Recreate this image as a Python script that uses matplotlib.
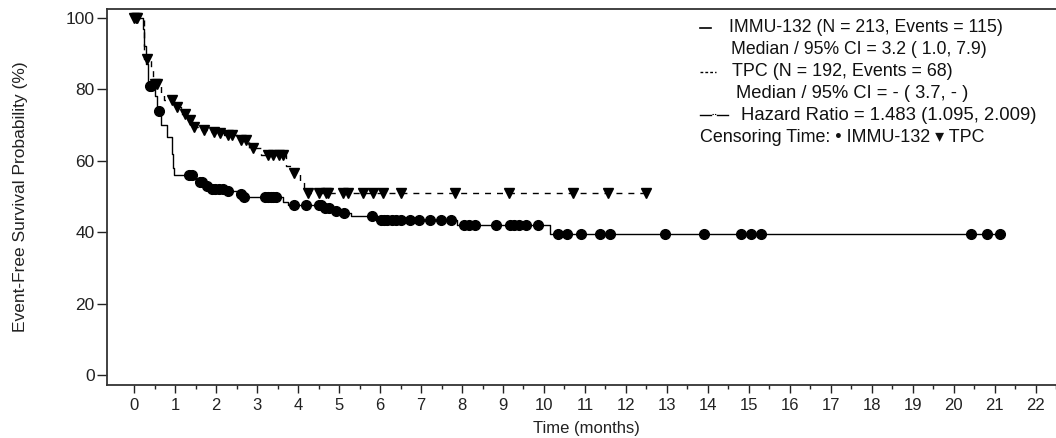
import numpy as np
import matplotlib
matplotlib.use("Agg")
import matplotlib.pyplot as plt
from matplotlib.lines import Line2D

plt.rcParams['font.family'] = ['Liberation Sans', 'DejaVu Sans']

# ---------------- data ----------------
imm_t = [0, 0.22, 0.25, 0.3, 0.35, 0.5, 0.57, 0.66, 0.8, 0.93, 0.95, 0.97,
         1.45, 1.55, 1.7, 1.82, 2.25, 2.5, 2.63, 3.62, 3.75, 4.6, 4.85, 5.05,
         5.3, 5.93, 7.87, 10.15]
imm_s = [100, 97, 92, 87, 81, 78, 74, 70, 66.7, 62, 58, 56,
         55, 54, 53, 52, 51.5, 50.8, 49.8, 48.5, 47.6, 46.8, 46, 45.4,
         44.5, 43.4, 42, 39.5]
imm_end = 21.12
imm_cens = [0.38, 0.42, 0.6, 1.33, 1.4, 1.6, 1.65, 1.78, 1.9, 1.98, 2.08, 2.16,
            2.3, 2.6, 2.68, 3.2, 3.27, 3.33, 3.4, 3.45, 3.9, 4.2, 4.5, 4.55,
            4.65, 4.75, 4.93, 5.13, 5.8, 6.03, 6.1, 6.18, 6.28, 6.4, 6.52,
            6.72, 6.94, 7.21, 7.48, 7.73, 8.05, 8.18, 8.32, 8.83, 9.17, 9.27,
            9.4, 9.55, 9.86, 10.33, 10.57, 10.91, 11.36, 11.6, 12.95, 13.9,
            14.8, 15.05, 15.3, 20.43, 20.8, 21.12]

tpc_t = [0, 0.25, 0.42, 0.47, 0.65, 0.72, 0.98, 1.15, 1.3, 1.42, 1.55, 1.85,
         2.0, 2.2, 2.5, 2.8, 3.1, 3.7, 3.85, 4.05, 4.15]
tpc_s = [100, 88.5, 85.5, 81.5, 79, 77, 75, 73, 71.4, 69.5, 68.6, 68,
         67.7, 67.2, 65.8, 63.6, 61.6, 58.5, 56.6, 54, 51]
tpc_end = 12.49
tpc_cens = [0.0, 0.04, 0.08, 0.32, 0.5, 0.56, 0.93, 1.05, 1.25, 1.37, 1.47,
            1.7, 1.94, 2.1, 2.28, 2.4, 2.6, 2.72, 2.89, 3.26, 3.38, 3.53,
            3.63, 3.9, 4.24, 4.51, 4.68, 4.73, 5.1, 5.22, 5.58, 5.83, 6.08,
            6.52, 7.82, 9.15, 10.7, 11.55, 12.49]

x_ticks = list(range(0, 23))
y_ticks = [0, 20, 40, 60, 80, 100]

legend_rows = [
    "IMMU-132 (N = 213, Events = 115)",
    "Median / 95% CI = 3.2 ( 1.0, 7.9)",
    "TPC (N = 192, Events = 68)",
    "Median / 95% CI = - ( 3.7, - )",
    "Hazard Ratio = 1.483 (1.095, 2.009)",
    "Censoring Time: \u2022 IMMU-132 \u25be TPC",
]

# ---------------- figure ----------------
W, H = 1056, 438
fig = plt.figure(figsize=(W / 100, H / 100), dpi=100)
ax = fig.add_axes([107 / W, 1 - 385 / H, (W - 107) / W + 0.01, (385 - 9) / H])


def step_at(ts, ss, x):
    idx = np.searchsorted(np.asarray(ts), np.asarray(x), side='right') - 1
    return np.asarray(ss)[idx]


def draw(ts, ss, end, cens, ls, marker, ms):
    tt = list(ts) + [end]
    sv = list(ss) + [ss[-1]]
    ax.plot(tt, sv, drawstyle='steps-post', color='black', lw=1.0,
            linestyle=ls, zorder=3)
    ax.plot(cens, step_at(ts, ss, cens), linestyle='none', marker=marker,
            color='black', ms=ms, zorder=4, clip_on=False)


draw(imm_t, imm_s, imm_end, imm_cens, '-', 'o', 7)
draw(tpc_t, tpc_s, tpc_end, tpc_cens, (0, (4.3, 4.3)), 'v', 7.5)

ax.set_xlim(-0.662, 22.75)
ax.set_ylim(-2.8, 102.5)
ax.set_xticks(x_ticks)
ax.set_xticks(np.arange(0.5, 22.6, 1.0), minor=True)
ax.set_yticks(y_ticks)
ax.tick_params(axis='x', which='major', length=6, width=1, direction='out',
               labelsize=12, pad=3, colors='#222222')
ax.tick_params(axis='x', which='minor', length=3, width=1, direction='out',
               colors='#222222')
ax.tick_params(axis='y', which='major', length=7, width=1, direction='out',
               labelsize=12.5, pad=2, colors='#222222')
for s in ['left', 'top', 'bottom']:
    ax.spines[s].set_color('#333333')
    ax.spines[s].set_linewidth(1.3)
ax.spines['right'].set_visible(False)

ax.set_xlabel("Time (months)", fontsize=12, labelpad=6, color='#222222')
ax.set_ylabel("Event-Free Survival Probability (%)", fontsize=12.5,
              labelpad=27, color='#222222')

# ---------------- legend (drawn manually) ----------------
def fx(px):
    return px / W


def fy(py):
    return 1 - py / H


row_y = [28, 50, 72, 93, 115, 137]
row_x = [729, 731, 732, 736, 741, 700]
row_fs = [12.7, 12.7, 12.9, 13.2, 13.3, 12.9]
for txt, y, x, fs in zip(legend_rows, row_y, row_x, row_fs):
    fig.text(fx(x), fy(y), txt, fontsize=fs, va='center', ha='left',
             color='#111111')

fig.add_artist(Line2D([fx(700), fx(711)], [fy(28), fy(28)], color='black', lw=1.2))
fig.add_artist(Line2D([fx(700), fx(716)], [fy(72), fy(72)], color='black', lw=1.0,
                      linestyle=(0, (2.0, 1.5))))
fig.add_artist(Line2D([fx(700), fx(711)], [fy(115), fy(115)], color='black', lw=1.0))
fig.add_artist(Line2D([fx(712), fx(716)], [fy(114), fy(114)], color='black', lw=0.8,
                      linestyle=(0, (1.2, 1.0))))
fig.add_artist(Line2D([fx(717), fx(728)], [fy(115), fy(115)], color='black', lw=1.0))

fig.savefig("out.png", dpi=100)
